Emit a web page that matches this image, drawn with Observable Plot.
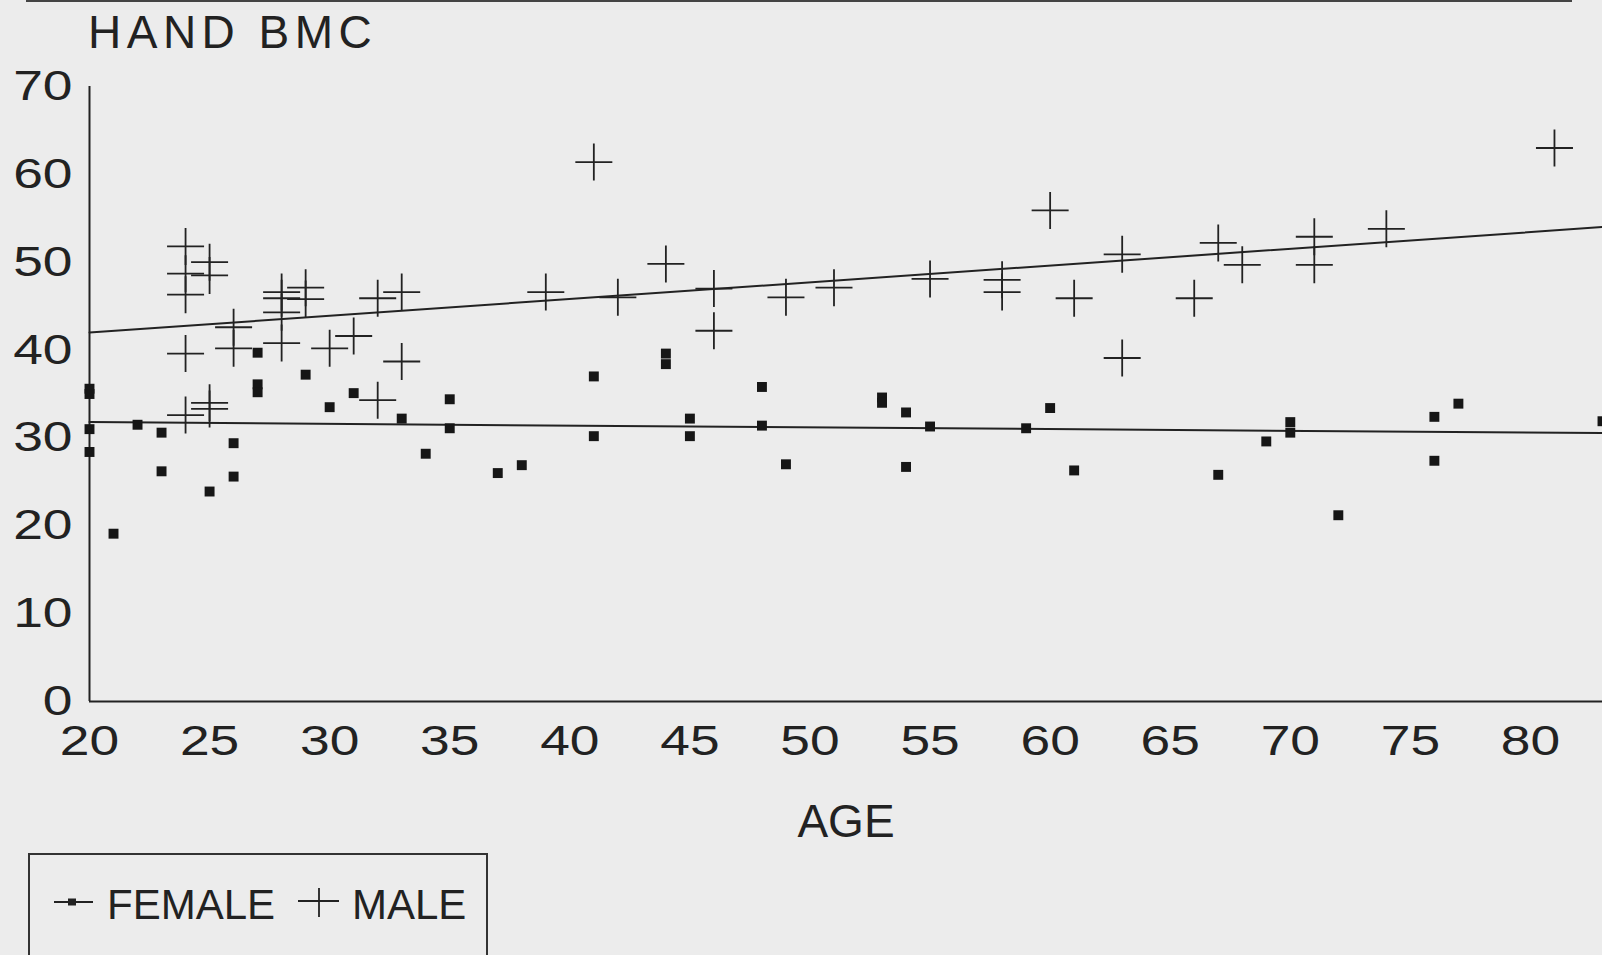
<!DOCTYPE html>
<html>
<head>
<meta charset="utf-8">
<script src="https://cdn.jsdelivr.net/npm/d3@7"></script>
<script src="https://cdn.jsdelivr.net/npm/@observablehq/plot@0.6"></script>
<style>
  html, body { margin: 0; padding: 0; }
  body { width: 1602px; height: 955px; overflow: hidden; position: relative;
         background: #ececec; font-family: "Liberation Sans", Arial, Helvetica, sans-serif; color: #222; }
  #rule { position: absolute; left: 26px; top: 0px; width: 1546px; height: 2px; background: #444; }
  #title { position: absolute; left: 88px; top: 9px; font-size: 46px; line-height: 1; letter-spacing: 5.5px; white-space: nowrap; }
  #chart { position: absolute; left: 0; top: 60px; }
  #legend { position: absolute; left: 28px; top: 853px; width: 460px; height: 140px;
            border: 2px solid #333; box-sizing: border-box; }
  #legend .lab { position: absolute; top: 29px; font-size: 42px; line-height: 1; white-space: nowrap; }
  #legend svg { position: absolute; left: 0; top: 0; }
</style>
</head>
<body>
<div id="rule"></div>
<div id="title">HAND BMC</div>
<div id="chart"></div>
<div id="legend">
  <svg width="460" height="100">
    <line x1="24" y1="47" x2="63" y2="47" stroke="#222" stroke-width="2"/>
    <rect x="38" y="43.5" width="8" height="7" fill="#222"/>
    <line x1="268" y1="46" x2="309" y2="46" stroke="#222" stroke-width="1.8"/>
    <line x1="289" y1="33" x2="289" y2="62" stroke="#222" stroke-width="1.8"/>
  </svg>
  <span class="lab" style="left:77px">FEMALE</span>
  <span class="lab" style="left:322px">MALE</span>
</div>
<script>
// ---- data ----
const femaleAge = [20,20,20,20,21,22,23,23,25,26,26,27,27,27,29,30,31,33,34,35,35,37,38,41,41,44,44,45,45,48,48,49,53,53,54,54,55,59,60,61,67,69,70,70,72,76,76,77,83];
const femaleBmc = [35.6,35.0,31.0,28.4,19.1,31.5,30.6,26.2,23.9,29.4,25.6,39.7,36.1,35.2,37.2,33.5,35.1,32.2,28.2,34.4,31.1,26.0,26.9,37.0,30.2,39.6,38.4,32.2,30.2,35.8,31.4,27.0,34.6,34.0,32.9,26.7,31.3,31.1,33.4,26.3,25.8,29.6,31.8,30.6,21.2,32.4,27.4,33.9,31.9];
const maleAge = [24,24,24,24,24,25,25,25,25,26,26,28,28,28,28,29,29,30,31,32,32,33,33,39,41,42,44,46,46,49,51,55,58,58,60,61,63,63,66,67,68,71,71,74,81];
const maleBmc = [51.8,48.7,46.3,39.6,32.6,50.0,48.5,34.0,33.3,42.6,40.2,46.6,45.9,44.3,40.8,47.1,45.8,40.2,41.6,45.9,34.3,46.6,38.7,46.6,61.4,46.0,49.8,47.0,42.2,46.0,47.1,48.1,48.0,46.6,55.9,45.9,50.9,39.1,45.9,52.2,49.7,52.9,49.7,53.8,63.0];
const fitAge = [20, 83];
const maleFit = [42.0, 54.0];
const femaleFit = [31.8, 30.55];
const xTicks = [20,25,30,35,40,45,50,55,60,65,70,75,80];
const yTicks = [0,10,20,30,40,50,60,70];
const xLabel = "AGE";

// ---- tables ----
const female = femaleAge.map((a, i) => ({age: a, bmc: femaleBmc[i]}));
const male = maleAge.map((a, i) => ({age: a, bmc: maleBmc[i]}));
const maleLine = fitAge.map((a, i) => ({age: a, bmc: maleFit[i]}));
const femaleLine = fitAge.map((a, i) => ({age: a, bmc: femaleFit[i]}));

// thin "+" marker
const thinPlus = {
  draw(context, size) {
    const r = Math.sqrt(size / Math.PI);
    context.moveTo(-r, 0); context.lineTo(r, 0);
    context.moveTo(0, -r); context.lineTo(0, r);
  }
};

const ink = "#222";
const chart = Plot.plot({
  width: 1602,
  height: 790,
  marginTop: 26,
  marginBottom: 149,
  marginLeft: 89,
  marginRight: 0,
  style: {background: "transparent", fontFamily: "'Liberation Sans', Arial, Helvetica, sans-serif", color: ink},
  x: {domain: [20, 83]},
  y: {domain: [0, 70]},
  marks: [
    Plot.axisX(xTicks, {tickSize: 0, tickPadding: 24, fontSize: 42, label: null, fill: ink}),
    Plot.axisY(yTicks, {tickSize: 0, tickPadding: 17, fontSize: 42, label: null, fill: ink}),
    Plot.ruleX([20], {stroke: ink, strokeWidth: 2}),
    Plot.ruleY([0], {stroke: ink, strokeWidth: 2}),
    Plot.line(maleLine, {x: "age", y: "bmc", stroke: ink, strokeWidth: 2}),
    Plot.line(femaleLine, {x: "age", y: "bmc", stroke: ink, strokeWidth: 2}),
    Plot.dot(female, {x: "age", y: "bmc", symbol: "square", r: 5.6, fill: "#161616", stroke: null}),
    Plot.dot(male, {x: "age", y: "bmc", symbol: thinPlus, r: 18.5, fill: "none", stroke: ink, strokeWidth: 1.8}),
    Plot.text([xLabel], {frameAnchor: "bottom", dy: 103, lineAnchor: "top", fontSize: 46, fill: ink})
  ]
});

// widen the tick-label digits like the original typeface
chart.querySelectorAll('g[aria-label$="tick label"] text').forEach(t => {
  const tr = t.getAttribute("transform");
  if (tr) t.setAttribute("transform", tr + " scale(1.27,1)");
  else {
    const x = +(t.getAttribute("x") || 0), y = +(t.getAttribute("y") || 0);
    t.removeAttribute("x"); t.removeAttribute("y");
    t.setAttribute("transform", `translate(${x},${y}) scale(1.27,1)`);
  }
});
document.getElementById("chart").appendChild(chart);
</script>
</body>
</html>
